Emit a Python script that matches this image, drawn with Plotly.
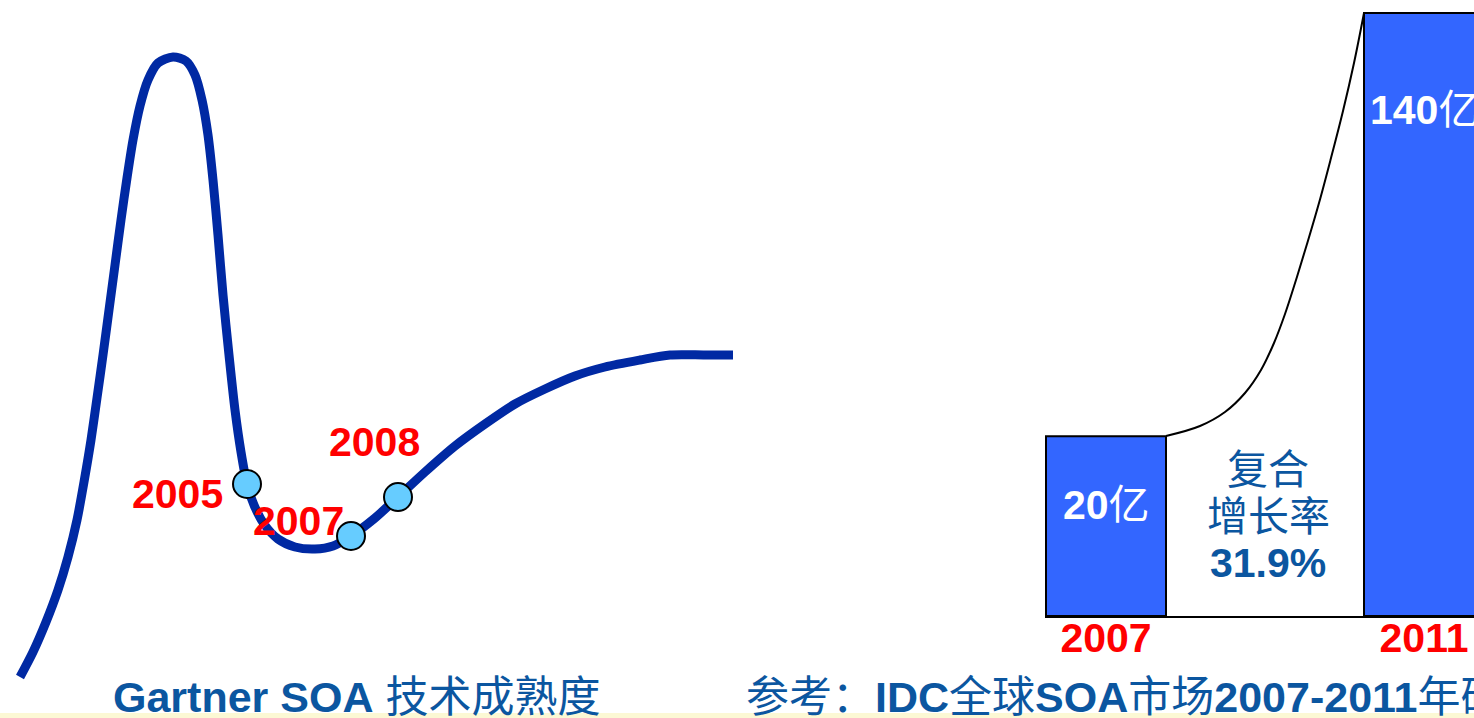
import plotly.graph_objects as go

W, H = 1474, 718

# ---------------- data ----------------
# Hype-cycle curve (picture coordinates, y measured downward)
hype_x = [20, 33, 46, 58, 68, 77, 84, 91, 97, 103, 109, 115, 121, 127, 133, 140, 148, 158, 173,
          186, 195, 202, 208, 213, 218, 223, 229, 235, 241, 247, 254, 264, 278, 295, 315,
          333, 351, 375, 398, 425, 455, 485, 515, 545, 575, 605, 640, 670, 705, 733]
hype_y = [677, 652, 622, 590, 557, 520, 482, 440, 398, 355, 310, 265, 220, 178, 140, 106, 80, 63, 57,
          61, 75, 100, 135, 180, 235, 295, 355, 410, 452, 484, 505, 524, 539, 547, 549,
          546, 536, 518, 497, 472, 446, 424, 404, 389, 376, 367, 360, 355, 355, 355]

# SOA maturity markers on the curve
marker_years = ["2005", "2007", "2008"]
marker_x = [247, 351, 398]
marker_y = [484, 536, 497]

# Growth curve drawn between the two bars
growth_x = [1166, 1200, 1225, 1245, 1261, 1274, 1285, 1296, 1307, 1319, 1331, 1343, 1354, 1364]
growth_y = [436, 426, 412, 393, 370, 343, 314, 280, 244, 203, 158, 111, 63, 13]

# IDC global SOA market (亿)
bar_years = ["2007", "2011"]
market_size = [20, 140]
bar_labels = ["<b>20</b>亿", "<b>140</b>亿"]
cagr_lines = ["复合", "增长率", "<b>31.9%</b>"]
axis_floor = -31.0   # visual floor of the (not-to-scale) slide bars

# ---------------- styling ----------------
CURVE_BLUE = "#0029A3"
TEXT_BLUE = "#0B56A0"
BAR_BLUE = "#3366FF"
RED = "#FF0000"
FONT = "Liberation Sans, Arial, Noto Sans CJK SC, sans-serif"
FS = 41

fig = go.Figure()

fig.add_trace(go.Scatter(
    x=hype_x, y=hype_y, mode="lines",
    line=dict(color=CURVE_BLUE, width=9, shape="spline", smoothing=0.8),
    hoverinfo="skip", xaxis="x", yaxis="y"))

fig.add_trace(go.Scatter(
    x=marker_x, y=marker_y, mode="markers",
    marker=dict(size=28, color="#66CCFF", line=dict(color="black", width=2)),
    hoverinfo="skip", xaxis="x", yaxis="y"))

fig.add_trace(go.Scatter(
    x=growth_x, y=growth_y, mode="lines",
    line=dict(color="black", width=2, shape="spline", smoothing=1.0),
    hoverinfo="skip", xaxis="x", yaxis="y"))

fig.add_trace(go.Bar(
    x=bar_years, y=[v - axis_floor for v in market_size], base=axis_floor,
    width=120 / 318,
    marker=dict(color=BAR_BLUE, line=dict(color="black", width=2)),
    hoverinfo="skip", xaxis="x2", yaxis="y2"))

annotations = []
# year labels beside the markers
label_pos = [(177, 494), (298, 521), (374, 442)]
for yr, (lx, ly) in zip(marker_years, label_pos):
    annotations.append(dict(x=lx, y=ly, xref="x", yref="y", text=f"<b>{yr}</b>",
                            showarrow=False, font=dict(family=FONT, size=FS, color=RED),
                            xanchor="center", yanchor="middle"))
# bar value labels
for i, (lab, ly) in enumerate(zip(bar_labels, [505, 110])):
    annotations.append(dict(x=i, y=ly, xref="x2", yref="y", text=lab,
                            showarrow=False, font=dict(family=FONT, size=FS, color="white"),
                            xanchor="center", yanchor="middle"))
# CAGR text
for t, ly in zip(cagr_lines, [470, 517, 563]):
    annotations.append(dict(x=1268, y=ly, xref="x", yref="y", text=t,
                            showarrow=False, font=dict(family=FONT, size=FS, color=TEXT_BLUE),
                            xanchor="center", yanchor="middle"))
# captions
annotations.append(dict(x=111, y=697, xref="x", yref="y",
                        text="<b>Gartner SOA</b> 技术成熟度",
                        showarrow=False, font=dict(family=FONT, size=43, color=TEXT_BLUE),
                        xanchor="left", yanchor="middle"))
annotations.append(dict(x=744, y=697, xref="x", yref="y",
                        text="参考：<b>IDC</b>全球<b>SOA</b>市场<b>2007-2011</b>年研究报告",
                        showarrow=False, font=dict(family=FONT, size=43, color=TEXT_BLUE),
                        xanchor="left", yanchor="middle"))

fig.update_layout(
    width=W, height=H,
    margin=dict(l=0, r=0, t=0, b=0),
    paper_bgcolor="white", plot_bgcolor="rgba(0,0,0,0)",
    showlegend=False,
    xaxis=dict(range=[0, W], domain=[0, 1], visible=False, fixedrange=True),
    yaxis=dict(range=[H, 0], domain=[0, 1], visible=False, fixedrange=True),
    xaxis2=dict(type="category", domain=[1045 / W, 1], anchor="y2",
                range=[(1045 - 1106) / 318, (W - 1106) / 318],
                showline=True, linecolor="black", linewidth=2,
                showgrid=False, zeroline=False, ticks="",
                tickfont=dict(family=FONT, size=FS, color=RED, weight="bold"),
                ticklabelstandoff=-15, ticklabelshift=0,
                ticklabeloverflow="allow", fixedrange=True),
    yaxis2=dict(domain=[(H - 616) / H, 1], anchor="x2",
                range=[axis_floor, 143.7], visible=False, fixedrange=True),
    annotations=annotations,
    shapes=[dict(type="rect", xref="paper", yref="paper", x0=0, x1=1,
                 y0=0, y1=5 / H, fillcolor="#FCF8D4", line=dict(width=0), layer="below")],
)

fig.write_html("out.html", config={"displayModeBar": False, "responsive": False},
               post_script="document.body.style.margin='0';document.body.style.overflow='hidden';")
